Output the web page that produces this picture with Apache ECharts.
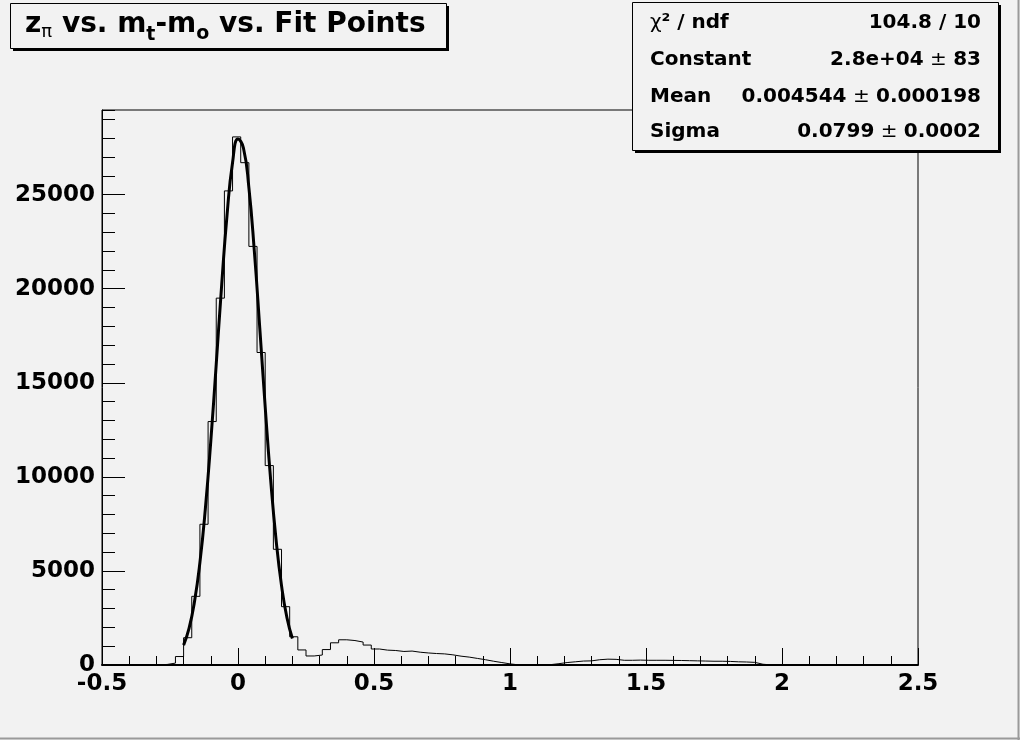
<!DOCTYPE html>
<html><head><meta charset="utf-8">
<script src="https://cdn.jsdelivr.net/npm/echarts@6/dist/echarts.min.js"></script>
<style>html,body{margin:0;padding:0;background:#f2f2f2}#c{width:1020px;height:740px}</style>
</head><body><div id="c"></div>
<script>
// ---- data ----
const binLow = -0.5;
const binWidth = 0.03;
const counts = [
  0, 0, 0, 0, 0, 0, 5, 30, 100, 450,
  1450, 3650, 7480, 12940, 19500, 25200, 28070, 26700, 22250, 16610,
  10600, 6150, 3100, 1500, 800, 480, 530, 820, 1180, 1340,
  1300, 1220, 1060, 850, 790, 770, 720, 740, 680, 640,
  610, 590, 540, 470, 420, 350, 280, 200, 130, 60,
  10, 0, 0, 5, 20, 70, 130, 170, 210, 220,
  280, 310, 300, 250, 250, 260, 250, 250, 250, 245,
  240, 230, 220, 210, 200, 200, 190, 170, 160, 140,
  40, 5, 0, 0, 0, 0, 0, 0, 0, 0,
  0, 0, 0, 0, 0, 0, 0, 0, 0, 0
];
const fitX = [-0.20, -0.18, -0.16, -0.14, -0.12, -0.10, -0.08, -0.06, -0.04, -0.02, 0.00,
              0.02, 0.04, 0.06, 0.08, 0.10, 0.12, 0.14, 0.16, 0.18, 0.20];
const fitY = [1056, 1946, 3360, 5452, 8311, 11897, 15997, 20206, 23971, 26709, 27955,
              27482, 25374, 22005, 17926, 13714, 9856, 6653, 4220, 2512, 1405];
const titleParts = ['z', 'π', ' vs. m', 't', '-m', 'o', ' vs. Fit Points'];
const statLabels = ['χ', '² / ndf', 'Constant', 'Mean', 'Sigma'];
const statValues = [['104.8 / 10'], ['2.8e+04', '83'], ['0.004544', '0.000198'], ['0.0799', '0.0002']];

// ---- build ----
const FONT = '"DejaVu Sans", "Liberation Sans", Arial, sans-serif';
const BG = '#f2f2f2';
const histData = [];
for (let k = 0; k < counts.length; k++) {
  histData.push([+(binLow + k * binWidth).toFixed(4), counts[k]]);
}
histData.push([+(binLow + counts.length * binWidth).toFixed(4), counts[counts.length - 1]]);
const fitData = fitX.map((x, i) => [x, fitY[i]]);

const mctx = document.createElement('canvas').getContext('2d');
function tw(text, size, weight) {
  mctx.font = weight + ' ' + size + 'px ' + FONT;
  return mctx.measureText(text).width;
}

// title layout
const tStyle = [
  {size: 28, weight: 'bold', cy: 25},
  {size: 18, weight: 'normal', cy: 32},
  {size: 28, weight: 'bold', cy: 25},
  {size: 19, weight: 'bold', cy: 35},
  {size: 28, weight: 'bold', cy: 25},
  {size: 19, weight: 'bold', cy: 34},
  {size: 28, weight: 'bold', cy: 25}
];
const graphics = [];
// canvas border
graphics.push({type: 'line', shape: {x1: 1018.5, y1: 0, x2: 1018.5, y2: 740}, style: {stroke: '#9a9a9a', lineWidth: 2}, z: 100});
graphics.push({type: 'line', shape: {x1: 0, y1: 738.5, x2: 1020, y2: 738.5}, style: {stroke: '#9a9a9a', lineWidth: 2}, z: 100});
// title box
graphics.push({type: 'rect', shape: {x: 13, y: 6, width: 436, height: 45}, style: {fill: '#000'}, z: 100});
graphics.push({type: 'rect', shape: {x: 10.5, y: 3.5, width: 436, height: 45}, style: {fill: BG, stroke: '#000', lineWidth: 1}, z: 101});
let tx = 25;
titleParts.forEach((t, i) => {
  const s = tStyle[i];
  graphics.push({type: 'text', x: tx, y: s.cy, z: 102,
    style: {text: t, fill: '#000', fontSize: s.size, fontWeight: s.weight, fontFamily: FONT, align: 'left', verticalAlign: 'middle'}});
  tx += tw(t, s.size, s.weight);
});
// stats box
graphics.push({type: 'rect', shape: {x: 635, y: 5, width: 366, height: 148}, style: {fill: '#000'}, z: 100});
graphics.push({type: 'rect', shape: {x: 632.5, y: 2.5, width: 366, height: 148}, style: {fill: BG, stroke: '#000', lineWidth: 1}, z: 101});
const rowY = [23, 60, 97, 132];
const SF = 20;
const rich = {
  b: {fontSize: SF, fontWeight: 'bold', fontFamily: FONT, fill: '#000'},
  n: {fontSize: SF, fontWeight: 'normal', fontFamily: FONT, fill: '#000'}
};
const leftTexts = ['{n|' + statLabels[0] + '}{b|' + statLabels[1] + '}', '{b|' + statLabels[2] + '}', '{b|' + statLabels[3] + '}', '{b|' + statLabels[4] + '}'];
leftTexts.forEach((t, i) => {
  graphics.push({type: 'text', x: 650, y: rowY[i], z: 102,
    style: {text: t, rich: rich, fill: '#000', fontSize: SF, fontFamily: FONT, align: 'left', verticalAlign: 'middle'}});
});
statValues.forEach((v, i) => {
  const t = v.length === 1 ? '{b|' + v[0] + '}' : '{b|' + v[0] + '}{n| ± }{b|' + v[1] + '}';
  graphics.push({type: 'text', x: 981, y: rowY[i], z: 102,
    style: {text: t, rich: rich, fill: '#000', fontSize: SF, fontFamily: FONT, align: 'right', verticalAlign: 'middle'}});
});

const labelStyle = {color: '#000', fontFamily: FONT, fontWeight: 'bold', fontSize: 23, formatter: v => String(v)};
const chart = echarts.init(document.getElementById('c'), null, {renderer: 'canvas'});
chart.setOption({
  animation: false,
  backgroundColor: BG,
  grid: {left: 102, top: 110, right: 102, bottom: 75, show: true, borderColor: '#000', borderWidth: 1, backgroundColor: BG, outerBoundsMode: 'none'},
  xAxis: [
    {type: 'value', min: -0.5, max: 2.5, interval: 0.5, position: 'bottom',
     axisLine: {show: true, onZero: false, lineStyle: {color: '#000', width: 2}},
     axisTick: {show: true, inside: true, length: 17, lineStyle: {color: '#000', width: 1}},
     axisLabel: Object.assign({margin: 8}, labelStyle),
     splitLine: {show: false}},
    {type: 'value', min: -0.5, max: 2.5, interval: 0.1, position: 'bottom',
     axisLine: {show: false, onZero: false},
     axisTick: {show: true, inside: true, length: 9, lineStyle: {color: '#000', width: 1}},
     axisLabel: {show: false}, splitLine: {show: false}}
  ],
  yAxis: [
    {type: 'value', min: 0, max: 29500, interval: 5000, position: 'left',
     axisLine: {show: true, onZero: false, lineStyle: {color: '#000', width: 1}},
     axisTick: {show: true, inside: true, length: 23, lineStyle: {color: '#000', width: 1}},
     axisLabel: Object.assign({margin: 7, showMaxLabel: false}, labelStyle),
     splitLine: {show: false}},
    {type: 'value', min: 0, max: 29500, interval: 1000, position: 'left',
     axisLine: {show: false, onZero: false},
     axisTick: {show: true, inside: true, length: 13, lineStyle: {color: '#000', width: 1}},
     axisLabel: {show: false}, splitLine: {show: false}}
  ],
  series: [
    {type: 'line', name: 'hist', xAxisIndex: 0, yAxisIndex: 0, data: histData, step: 'end',
     symbol: 'none', lineStyle: {color: '#000', width: 1}, z: 3},
    {type: 'line', name: 'fit', xAxisIndex: 0, yAxisIndex: 0, data: fitData, smooth: true,
     symbol: 'none', lineStyle: {color: '#000', width: 3}, z: 4}
  ],
  graphic: graphics
});
</script></body></html>
